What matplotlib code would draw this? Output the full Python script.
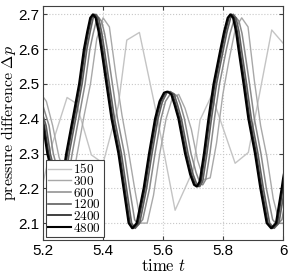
import numpy as np
import matplotlib
matplotlib.use('Agg')
import matplotlib.pyplot as plt

plt.rcParams['mathtext.fontset'] = 'cm'
plt.rcParams['font.family'] = ['Liberation Sans', 'DejaVu Sans']

# resolutions shown in the legend
labels = ['150', '300', '600', '1200', '2400', '4800']
colors = ['#c4c4c4', '#a8a8a8', '#8a8a8a', '#5e5e5e', '#303030', '#000000']

# values, one time/value list per curve
t_150 = [5.190, 5.228, 5.280, 5.311, 5.361, 5.400, 5.450, 5.479, 5.521, 5.579,
         5.640, 5.700, 5.723, 5.762, 5.840, 5.884, 5.962, 6.000]
p_150 = [2.18, 2.32, 2.461, 2.444, 2.296, 2.272, 2.434, 2.626, 2.648, 2.41,
         2.137, 2.252, 2.396, 2.468, 2.272, 2.303, 2.655, 2.617]

t_300 = [5.190, 5.211, 5.232, 5.253, 5.274, 5.295, 5.316, 5.337, 5.358, 5.379,
         5.400, 5.421, 5.442, 5.463, 5.484, 5.505, 5.526, 5.547, 5.568, 5.589,
         5.610, 5.631, 5.652, 5.673, 5.694, 5.715, 5.736, 5.757, 5.778, 5.799,
         5.820, 5.841, 5.862, 5.883, 5.904, 5.925, 5.946, 5.967, 5.988, 6.009]
p_300 = [2.475, 2.45, 2.38, 2.29, 2.24, 2.21, 2.31, 2.41, 2.50, 2.63,
         2.69, 2.664, 2.53, 2.41, 2.31, 2.20, 2.10, 2.10, 2.18, 2.30,
         2.40, 2.46, 2.47, 2.43, 2.37, 2.28, 2.225, 2.23, 2.33, 2.47,
         2.57, 2.66, 2.69, 2.664, 2.51, 2.38, 2.29, 2.17, 2.10, 2.10]

t_600 = [5.175, 5.195, 5.220, 5.234, 5.251, 5.264, 5.273, 5.283, 5.297, 5.310,
         5.323, 5.340, 5.356, 5.367, 5.377, 5.386, 5.395, 5.405, 5.414, 5.431,
         5.448, 5.471, 5.488, 5.505, 5.517, 5.532, 5.555, 5.573, 5.593, 5.608,
         5.623, 5.634, 5.647, 5.658, 5.671, 5.693, 5.710, 5.723, 5.732, 5.742,
         5.756, 5.771, 5.788, 5.811, 5.823, 5.835, 5.844, 5.853, 5.863, 5.871,
         5.888, 5.904, 5.926, 5.944, 5.965, 5.980, 5.996, 6.015, 6.020, 6.035]
p_600 = [2.475, 2.45, 2.38, 2.30, 2.245, 2.215, 2.21, 2.225, 2.30, 2.36,
         2.42, 2.50, 2.60, 2.645, 2.68, 2.69, 2.68, 2.645, 2.60, 2.50,
         2.40, 2.30, 2.20, 2.11, 2.095, 2.11, 2.20, 2.30, 2.40, 2.45,
         2.47, 2.473, 2.465, 2.44, 2.40, 2.30, 2.245, 2.215, 2.21, 2.225,
         2.30, 2.40, 2.50, 2.60, 2.645, 2.68, 2.69, 2.68, 2.645, 2.60,
         2.50, 2.40, 2.30, 2.20, 2.11, 2.095, 2.11, 2.20, 2.23, 2.30]

t_1200 = [5.165, 5.185, 5.210, 5.224, 5.241, 5.254, 5.263, 5.273, 5.287, 5.300,
          5.313, 5.330, 5.346, 5.357, 5.367, 5.376, 5.385, 5.395, 5.404, 5.421,
          5.438, 5.461, 5.478, 5.495, 5.507, 5.522, 5.545, 5.563, 5.583, 5.598,
          5.613, 5.624, 5.637, 5.648, 5.661, 5.683, 5.700, 5.713, 5.722, 5.732,
          5.746, 5.761, 5.778, 5.801, 5.813, 5.825, 5.834, 5.843, 5.853, 5.861,
          5.878, 5.894, 5.916, 5.934, 5.955, 5.970, 5.986, 6.005, 6.010, 6.025]
t_2400 = [5.159, 5.179, 5.204, 5.218, 5.235, 5.248, 5.257, 5.267, 5.281, 5.294,
          5.307, 5.324, 5.340, 5.351, 5.361, 5.370, 5.379, 5.389, 5.398, 5.415,
          5.432, 5.455, 5.472, 5.489, 5.501, 5.516, 5.539, 5.557, 5.577, 5.592,
          5.607, 5.618, 5.631, 5.642, 5.655, 5.677, 5.694, 5.707, 5.716, 5.726,
          5.740, 5.755, 5.772, 5.795, 5.807, 5.819, 5.828, 5.837, 5.847, 5.855,
          5.872, 5.888, 5.910, 5.928, 5.949, 5.964, 5.980, 5.999, 6.004, 6.019]
t_4800 = [5.155, 5.175, 5.200, 5.214, 5.231, 5.244, 5.253, 5.263, 5.277, 5.290,
          5.303, 5.320, 5.336, 5.347, 5.357, 5.366, 5.375, 5.385, 5.394, 5.411,
          5.428, 5.451, 5.468, 5.485, 5.497, 5.512, 5.535, 5.553, 5.573, 5.588,
          5.603, 5.614, 5.627, 5.638, 5.651, 5.673, 5.690, 5.703, 5.712, 5.722,
          5.736, 5.751, 5.768, 5.791, 5.803, 5.815, 5.824, 5.833, 5.843, 5.851,
          5.868, 5.884, 5.906, 5.924, 5.945, 5.960, 5.976, 5.995, 6.000, 6.015]
# 1200, 2400 and 4800 share the same shape
p_fine = [2.478, 2.45, 2.38, 2.30, 2.24, 2.21, 2.205, 2.22, 2.30, 2.36,
          2.42, 2.50, 2.60, 2.65, 2.69, 2.70, 2.69, 2.65, 2.60, 2.50,
          2.40, 2.30, 2.20, 2.10, 2.085, 2.10, 2.20, 2.30, 2.40, 2.45,
          2.475, 2.478, 2.47, 2.44, 2.40, 2.30, 2.24, 2.21, 2.205, 2.22,
          2.30, 2.40, 2.50, 2.60, 2.65, 2.69, 2.70, 2.69, 2.65, 2.60,
          2.50, 2.40, 2.30, 2.20, 2.10, 2.085, 2.10, 2.20, 2.23, 2.30]

series = [(t_150, p_150), (t_300, p_300), (t_600, p_600),
          (t_1200, p_fine), (t_2400, p_fine), (t_4800, p_fine)]
widths = [1.0, 1.0, 1.1, 1.2, 1.3, 1.5]

xticks = [5.2, 5.4, 5.6, 5.8, 6.0]
xticklabels = ['5.2', '5.4', '5.6', '5.8', '6']
yticks = [2.1, 2.2, 2.3, 2.4, 2.5, 2.6, 2.7]

fig = plt.figure(figsize=(2.91, 2.73), dpi=100)
ax = fig.add_axes([0.148, 0.121, 0.825, 0.857])

for (t, p), c, lab, lw in zip(series, colors, labels, widths):
    ax.plot(t, p, color=c, lw=lw, label='$' + lab + '$')

ax.set_xlim(5.2, 6.0)
ax.set_ylim(2.0515, 2.724)
ax.set_xticks(xticks)
ax.set_xticklabels(xticklabels)
ax.set_yticks(yticks)
ax.grid(True, linestyle=':', color='#c8c8c8', lw=0.8)
ax.tick_params(direction='in', length=3, top=True, right=True,
               labelsize=11, pad=3, color='#404040')
for s in ax.spines.values():
    s.set_color('#404040')
    s.set_linewidth(0.8)

ax.set_xlabel(r'$\mathrm{time}\ t$', fontsize=12, labelpad=0)
ax.set_ylabel(r'$\mathrm{pressure\ difference}\ \Delta p$', fontsize=11.5, labelpad=0)

leg = ax.legend(loc='lower left', bbox_to_anchor=(0.0, 0.0), fontsize=9.5,
                labelspacing=-0.1, handlelength=1.7, handletextpad=0.2,
                borderpad=0.2, borderaxespad=0.2, fancybox=False,
                framealpha=1, edgecolor='#404040')
leg.get_frame().set_linewidth(0.8)

fig.savefig('out.png', dpi=100)
